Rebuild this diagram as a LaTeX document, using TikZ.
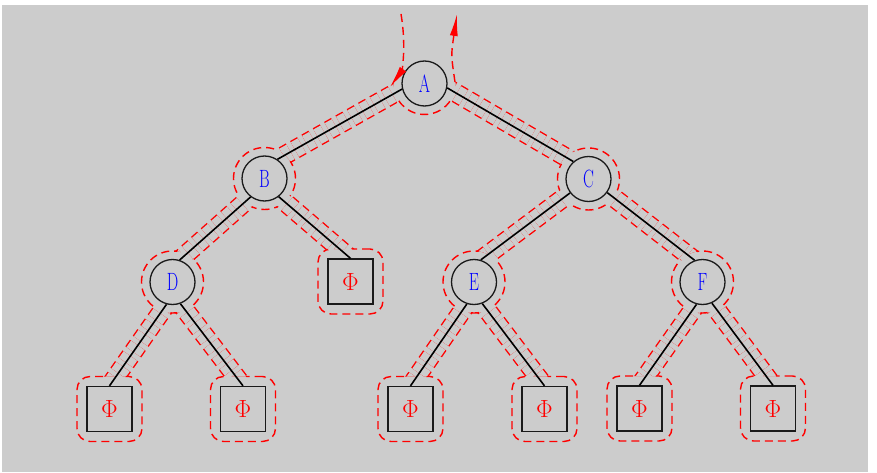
\documentclass[tikz,border=0pt]{standalone}
\usepackage{graphicx}
\usetikzlibrary{calc,arrows.meta}
\definecolor{bg}{HTML}{CCCCCC}
\definecolor{edgegray}{HTML}{1A1A1A}
\tikzset{
  vtx/.style={circle,draw=edgegray,line width=1.3pt,fill=bg,minimum size=45pt,inner sep=0pt,text=blue,font=\fontsize{25}{25}\selectfont},
  nil/.style={rectangle,draw=edgegray,line width=1.3pt,fill=bg,minimum size=45pt,inner sep=0pt,text=red,font=\fontsize{29}{29}\selectfont},
  link/.style={draw=black,line width=1.6pt},
  tour/.style={draw=red,line width=1.4pt,dash pattern=on 8pt off 5pt},
  twin/.style={tour,double=bg,double distance=16.6pt,shorten <=-15pt,shorten >=-15pt},
  ringv/.style={circle,tour,minimum size=62pt,inner sep=0pt},
  ringn/.style={rectangle,tour,rounded corners=13pt,minimum size=65pt,inner sep=0pt},
}
\newcommand\vname[1]{\scalebox{0.65}[1]{#1}}
\newcommand\treeedges{A.194/B.56, A.-11/C.131, B.-127/D.72, B.-52/lB.north,
  C.-143/E.73, C.-36/F.110, D.-105/lD1.north, D.-70/lD2.north,
  E.-108/lE1.north, E.-69/lE2.north, F.-105/lF1.north, F.-66/lF2.north}
\begin{document}
\begin{tikzpicture}[x=1pt,y=1pt]
  \useasboundingbox (0,0) rectangle (877,-473);
  \fill[bg] (2,-5) rectangle (868,-472);
  % tree
  \node[vtx] (A) at (424.5,-83.5) {\vname{A}};
  \node[vtx] (B) at (264.5,-178.5) {\vname{B}};
  \node[vtx] (C) at (588.5,-179) {\vname{C}};
  \node[vtx] (D) at (172.5,-282) {\vname{D}};
  \node[vtx] (E) at (474,-282) {\vname{E}};
  \node[vtx] (F) at (702.5,-282) {\vname{F}};
  \node[nil] (lB) at (350.5,-281.5) {$\Phi$};
  \node[nil] (lD1) at (109.5,-409) {$\Phi$};
  \node[nil] (lD2) at (243,-409) {$\Phi$};
  \node[nil] (lE1) at (410.5,-409) {$\Phi$};
  \node[nil] (lE2) at (544.5,-409) {$\Phi$};
  \node[nil] (lF1) at (639.5,-408.5) {$\Phi$};
  \node[nil] (lF2) at (773,-408.5) {$\Phi$};
  % euler tour round the tree: twin lines outside the rings
  \begin{scope}[even odd rule]
    \clip (0,0) rectangle (877,-473)
      foreach \v in {A,B,C,D,E,F} {(\v.center) circle[radius=31]}
      foreach \v in {lB,lD1,lD2,lE1,lE2,lF1,lF2} {[rounded corners=13pt] ($(\v.center)+(-32.5,-32.5)$) rectangle ++(65,65)};
    \foreach \p/\q in \treeedges \draw[twin] (\p) -- (\q);
  \end{scope}
  % rings, cut where the edges leave
  \begin{scope}[even odd rule]
    \clip (0,0) rectangle (877,-473)
      foreach \p/\q in \treeedges {($(\p)!8pt!90:(\q)$) -- ($(\q)!8pt!-90:(\p)$)
        -- ($(\q)!8pt!90:(\p)$) -- ($(\p)!8pt!-90:(\q)$) -- cycle};
    \foreach \v in {B,C,D,E,F} \node[ringv] at (\v) {};
    \foreach \v in {lB,lD1,lD2,lE1,lE2,lF1,lF2} \node[ringn] at (\v) {};
  \end{scope}
  \draw[tour] (A.center) ++(214:31) arc[start angle=214,end angle=327,radius=31];
  \foreach \p/\q in \treeedges \draw[link] (\p) -- (\q);
  \coordinate (enter) at (401,-14);
  \coordinate (leave) at (457,-14);
  \draw[tour,-{Latex[length=22pt,width=8pt]}] (enter) .. controls (407,-50) and (401,-72) .. (390,-87);
  \draw[tour,-{Latex[length=22pt,width=8pt]}] (455,-82) .. controls (451,-55) .. (leave);
\end{tikzpicture}
\end{document}
